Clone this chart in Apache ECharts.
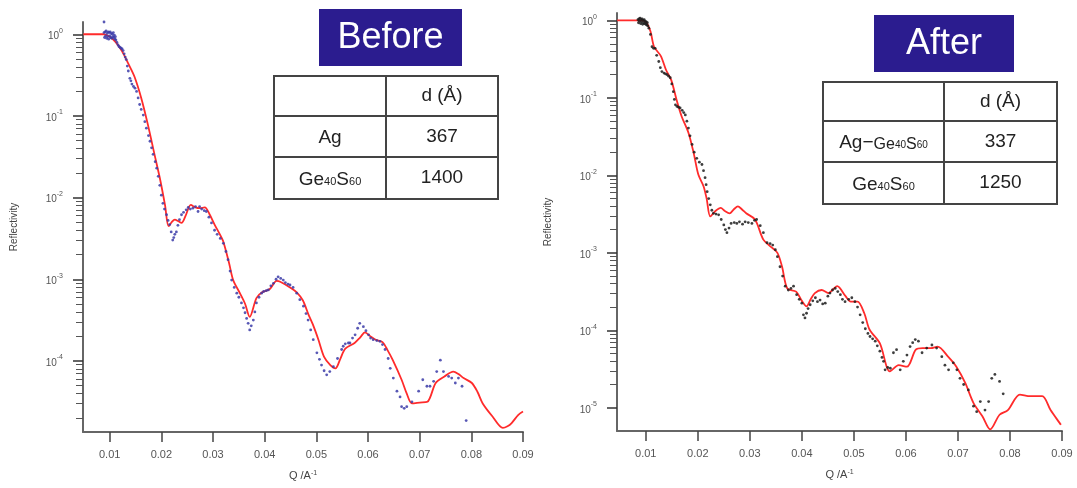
<!DOCTYPE html>
<html>
<head>
<meta charset="utf-8">
<title>Reflectivity before / after</title>
<script src="https://cdn.jsdelivr.net/npm/echarts@6/dist/echarts.min.js"></script>
<style>
  html, body { margin: 0; padding: 0; background: #fff; }
  #main { width: 1077px; height: 488px; }
</style>
</head>
<body>
<div id="main"></div>
<script>
// values: [Q (1/A), log10 of reflectivity]
const beforeFit = [
  [0.0049, 0.0], [0.0088, 0.0], [0.0100, -0.03], [0.0112, -0.10], [0.0124, -0.21], [0.0136, -0.36],
  [0.0148, -0.52], [0.0161, -0.78], [0.0174, -1.11], [0.0187, -1.48], [0.0197, -1.76], [0.0207, -2.09],
  [0.0214, -2.35], [0.0220, -2.30], [0.0226, -2.27], [0.0233, -2.29], [0.0239, -2.31], [0.0247, -2.22],
  [0.0257, -2.09], [0.0266, -2.12], [0.0274, -2.13], [0.0284, -2.12], [0.0293, -2.20], [0.0303, -2.33],
  [0.0314, -2.46], [0.0320, -2.54], [0.0331, -2.80], [0.0339, -3.01], [0.0352, -3.17], [0.0362, -3.30],
  [0.0371, -3.46], [0.0384, -3.23], [0.0395, -3.16], [0.0410, -3.12], [0.0423, -3.02], [0.0430, -3.03],
  [0.0449, -3.10], [0.0462, -3.16], [0.0474, -3.26], [0.0484, -3.42], [0.0493, -3.55], [0.0504, -3.74],
  [0.0515, -3.95], [0.0527, -4.05], [0.0537, -4.09], [0.0546, -3.98], [0.0556, -3.85], [0.0574, -3.78],
  [0.0585, -3.71], [0.0594, -3.65], [0.0605, -3.70], [0.0615, -3.74], [0.0628, -3.77], [0.0638, -3.87],
  [0.0648, -3.99], [0.0665, -4.23], [0.0675, -4.40], [0.0685, -4.52], [0.0700, -4.51], [0.0715, -4.50],
  [0.0731, -4.27], [0.0748, -4.19], [0.0765, -4.13], [0.0775, -4.16], [0.0785, -4.21], [0.0801, -4.27],
  [0.0812, -4.38], [0.0822, -4.52], [0.0841, -4.68], [0.0861, -4.82], [0.0870, -4.80], [0.0878, -4.76],
  [0.0891, -4.66], [0.0900, -4.62]
];
const beforeData = [
  [0.0089, 0.15], [0.0089, 0.02], [0.0090, -0.04], [0.0091, 0.03], [0.0092, -0.02], [0.0093, 0.04],
  [0.0094, -0.05], [0.0095, 0.01], [0.0096, -0.03], [0.0097, 0.03], [0.0098, -0.06], [0.0099, 0.02],
  [0.0100, -0.02], [0.0101, 0.03], [0.0102, -0.04], [0.0103, 0.01], [0.0104, -0.05], [0.0105, 0.0],
  [0.0106, -0.03], [0.0107, 0.02], [0.0108, -0.04], [0.0109, -0.01], [0.0110, -0.06], [0.0111, -0.03],
  [0.0112, -0.07], [0.0114, -0.10], [0.0116, -0.13], [0.0118, -0.15], [0.0120, -0.16], [0.0122, -0.17],
  [0.0124, -0.18], [0.0126, -0.20], [0.0128, -0.24], [0.0130, -0.28], [0.0132, -0.31], [0.0134, -0.39],
  [0.0136, -0.45], [0.0139, -0.54], [0.0141, -0.57], [0.0143, -0.61], [0.0146, -0.64], [0.0149, -0.66],
  [0.0152, -0.70], [0.0155, -0.78], [0.0158, -0.86], [0.0161, -0.92], [0.0165, -0.99], [0.0168, -1.07],
  [0.0171, -1.15], [0.0175, -1.24], [0.0178, -1.31], [0.0181, -1.39], [0.0184, -1.47], [0.0188, -1.56],
  [0.0191, -1.64], [0.0194, -1.74], [0.0197, -1.85], [0.0200, -1.97], [0.0203, -2.07], [0.0206, -2.14],
  [0.0210, -2.21], [0.0213, -2.28], [0.0216, -2.33], [0.0219, -2.42], [0.0222, -2.52], [0.0224, -2.49],
  [0.0226, -2.45], [0.0229, -2.42], [0.0232, -2.34], [0.0235, -2.27], [0.0239, -2.21], [0.0243, -2.18],
  [0.0248, -2.15], [0.0252, -2.12], [0.0256, -2.14], [0.0261, -2.13], [0.0266, -2.11], [0.0271, -2.17],
  [0.0274, -2.11], [0.0278, -2.14], [0.0283, -2.16], [0.0287, -2.17], [0.0292, -2.24], [0.0297, -2.31],
  [0.0303, -2.40], [0.0308, -2.45], [0.0314, -2.50], [0.0320, -2.56], [0.0325, -2.66], [0.0329, -2.76],
  [0.0333, -2.90], [0.0336, -3.01], [0.0341, -3.10], [0.0346, -3.17], [0.0350, -3.22], [0.0355, -3.29],
  [0.0359, -3.35], [0.0362, -3.41], [0.0365, -3.48], [0.0368, -3.54], [0.0371, -3.62], [0.0374, -3.57],
  [0.0378, -3.50], [0.0381, -3.40], [0.0384, -3.29], [0.0389, -3.22], [0.0394, -3.17], [0.0398, -3.15],
  [0.0403, -3.14], [0.0407, -3.13], [0.0412, -3.08], [0.0417, -3.05], [0.0422, -3.00], [0.0426, -2.97],
  [0.0431, -2.99], [0.0436, -3.01], [0.0440, -3.04], [0.0445, -3.06], [0.0449, -3.07], [0.0455, -3.10],
  [0.0462, -3.17], [0.0468, -3.25], [0.0475, -3.33], [0.0480, -3.42], [0.0484, -3.50], [0.0489, -3.62],
  [0.0494, -3.74], [0.0501, -3.90], [0.0506, -3.98], [0.0510, -4.05], [0.0515, -4.12], [0.0520, -4.17],
  [0.0526, -4.13], [0.0533, -4.07], [0.0541, -3.97], [0.0549, -3.86], [0.0552, -3.82], [0.0556, -3.79],
  [0.0562, -3.78], [0.0565, -3.78], [0.0570, -3.72], [0.0575, -3.68], [0.0580, -3.60], [0.0584, -3.54],
  [0.0591, -3.58], [0.0596, -3.63], [0.0601, -3.68], [0.0605, -3.72], [0.0610, -3.74], [0.0617, -3.75],
  [0.0623, -3.76], [0.0628, -3.80], [0.0633, -3.86], [0.0639, -3.97], [0.0643, -4.09], [0.0649, -4.21],
  [0.0656, -4.37], [0.0662, -4.44], [0.0665, -4.56], [0.0670, -4.58], [0.0675, -4.56], [0.0685, -4.50],
  [0.0698, -4.37], [0.0706, -4.23], [0.0714, -4.31], [0.0720, -4.31], [0.0727, -4.25], [0.0733, -4.13],
  [0.0740, -3.99], [0.0746, -4.13], [0.0756, -4.19], [0.0762, -4.21], [0.0769, -4.27], [0.0775, -4.21],
  [0.0782, -4.31], [0.0790, -4.73]
];
const afterFit = [
  [0.0045, 0.0], [0.0089, 0.0], [0.0100, -0.02], [0.0109, -0.14], [0.0116, -0.34], [0.0129, -0.46],
  [0.0139, -0.64], [0.0149, -0.77], [0.0159, -1.02], [0.0169, -1.24], [0.0182, -1.45], [0.0192, -1.71],
  [0.0201, -1.99], [0.0211, -2.14], [0.0217, -2.30], [0.0224, -2.53], [0.0234, -2.46], [0.0244, -2.42],
  [0.0252, -2.46], [0.0261, -2.49], [0.0269, -2.44], [0.0277, -2.40], [0.0285, -2.44], [0.0293, -2.49],
  [0.0310, -2.57], [0.0326, -2.83], [0.0340, -2.92], [0.0353, -3.00], [0.0362, -3.18], [0.0372, -3.46],
  [0.0389, -3.50], [0.0400, -3.62], [0.0409, -3.69], [0.0417, -3.60], [0.0425, -3.52], [0.0438, -3.48],
  [0.0451, -3.52], [0.0460, -3.47], [0.0468, -3.43], [0.0484, -3.56], [0.0494, -3.63], [0.0507, -3.63],
  [0.0520, -3.78], [0.0530, -3.99], [0.0550, -4.17], [0.0563, -4.47], [0.0569, -4.53], [0.0586, -4.45],
  [0.0602, -4.47], [0.0619, -4.25], [0.0632, -4.23], [0.0648, -4.23], [0.0661, -4.21], [0.0681, -4.34],
  [0.0697, -4.47], [0.0714, -4.68], [0.0730, -4.94], [0.0747, -5.11], [0.0762, -5.28], [0.0780, -5.09],
  [0.0796, -5.03], [0.0819, -4.83], [0.0839, -4.85], [0.0862, -4.85], [0.0878, -5.03], [0.0898, -5.22]
];
const afterData = [
  [0.0084, 0.13], [0.0085, 0.01], [0.0086, -0.03], [0.0087, 0.02], [0.0088, -0.01], [0.0089, 0.03],
  [0.0090, -0.04], [0.0091, 0.01], [0.0092, -0.02], [0.0093, 0.02], [0.0094, -0.05], [0.0095, 0.0],
  [0.0096, -0.03], [0.0097, 0.01], [0.0098, -0.04], [0.0099, -0.01], [0.0100, -0.05], [0.0101, -0.02],
  [0.0102, -0.06], [0.0103, -0.03], [0.0104, -0.07], [0.0106, -0.10], [0.0109, -0.18], [0.0112, -0.34],
  [0.0115, -0.36], [0.0118, -0.36], [0.0121, -0.45], [0.0125, -0.53], [0.0128, -0.61], [0.0131, -0.66],
  [0.0135, -0.68], [0.0138, -0.69], [0.0141, -0.70], [0.0144, -0.72], [0.0147, -0.74], [0.0150, -0.82],
  [0.0153, -0.92], [0.0155, -1.02], [0.0157, -1.09], [0.0160, -1.11], [0.0163, -1.12], [0.0166, -1.13],
  [0.0170, -1.16], [0.0173, -1.19], [0.0176, -1.22], [0.0179, -1.30], [0.0182, -1.39], [0.0185, -1.49],
  [0.0189, -1.60], [0.0193, -1.70], [0.0198, -1.78], [0.0203, -1.83], [0.0208, -1.86], [0.0211, -1.94],
  [0.0214, -2.03], [0.0216, -2.12], [0.0218, -2.21], [0.0221, -2.30], [0.0224, -2.38], [0.0227, -2.45],
  [0.0230, -2.49], [0.0235, -2.50], [0.0240, -2.51], [0.0245, -2.57], [0.0250, -2.64], [0.0253, -2.70],
  [0.0256, -2.74], [0.0260, -2.68], [0.0264, -2.62], [0.0270, -2.61], [0.0275, -2.62], [0.0280, -2.60],
  [0.0286, -2.63], [0.0291, -2.60], [0.0297, -2.61], [0.0304, -2.62], [0.0309, -2.58], [0.0313, -2.57],
  [0.0320, -2.65], [0.0326, -2.74], [0.0333, -2.87], [0.0339, -2.88], [0.0344, -2.90], [0.0349, -2.96],
  [0.0353, -3.05], [0.0358, -3.18], [0.0363, -3.30], [0.0368, -3.43], [0.0374, -3.48], [0.0379, -3.46],
  [0.0384, -3.43], [0.0390, -3.54], [0.0395, -3.60], [0.0400, -3.65], [0.0403, -3.80], [0.0406, -3.84],
  [0.0409, -3.78], [0.0412, -3.72], [0.0416, -3.67], [0.0421, -3.62], [0.0426, -3.58], [0.0430, -3.63],
  [0.0435, -3.61], [0.0440, -3.66], [0.0445, -3.65], [0.0450, -3.56], [0.0454, -3.52], [0.0459, -3.48],
  [0.0464, -3.46], [0.0469, -3.50], [0.0474, -3.54], [0.0478, -3.60], [0.0483, -3.63], [0.0490, -3.60],
  [0.0496, -3.58], [0.0502, -3.63], [0.0507, -3.70], [0.0512, -3.80], [0.0517, -3.90], [0.0522, -3.98],
  [0.0527, -4.04], [0.0531, -4.08], [0.0536, -4.11], [0.0541, -4.14], [0.0545, -4.20], [0.0550, -4.27],
  [0.0554, -4.35], [0.0557, -4.40], [0.0560, -4.51], [0.0565, -4.48], [0.0570, -4.49], [0.0576, -4.29],
  [0.0582, -4.25], [0.0589, -4.51], [0.0595, -4.40], [0.0602, -4.32], [0.0608, -4.21], [0.0613, -4.16],
  [0.0618, -4.12], [0.0624, -4.14], [0.0631, -4.29], [0.0640, -4.23], [0.0650, -4.19], [0.0659, -4.23],
  [0.0669, -4.34], [0.0675, -4.45], [0.0682, -4.51], [0.0691, -4.42], [0.0698, -4.51], [0.0704, -4.62],
  [0.0711, -4.70], [0.0720, -4.77], [0.0730, -4.98], [0.0736, -5.05], [0.0743, -4.92], [0.0752, -5.03],
  [0.0759, -4.92], [0.0765, -4.62], [0.0771, -4.57], [0.0780, -4.66], [0.0787, -4.82]
];

// tick labels
const qTicks = [0.01, 0.02, 0.03, 0.04, 0.05, 0.06, 0.07, 0.08, 0.09];
const decadeTicks = [1, 0.1, 0.01, 0.001, 0.0001, 0.00001];
const minorMantissa = [2, 3, 4, 5, 6, 7, 8, 9];

// table contents
const beforeTitle = 'Before';
const afterTitle = 'After';
const tableHead = 'd (Å)';
const beforeLayers = ['{n|Ag}', '{n|Ge}{sub|40}{n|S}{sub|60}'];
const beforeThick = ['367', '1400'];
const afterLayers = ['{n|Ag−}{m|Ge}{msub|40}{m|S}{msub|60}', '{n|Ge}{sub|40}{n|S}{sub|60}'];
const afterThick = ['337', '1250'];

const FONT = '"Liberation Sans", Arial, Helvetica, sans-serif';
const toR = pts => pts.map(p => [p[0], Math.pow(10, p[1])]);

const panels = [
  { fit: beforeFit, data: beforeData, dot: '#3b3ba8', qMin: 0.00483, rMin: Math.pow(10, -4.87), rMax: Math.pow(10, 0.15),
    grid: { left: 83, right: 554, top: 22, bottom: 56 } },
  { fit: afterFit, data: afterData, dot: '#1c1c1c', qMin: 0.00447, rMin: Math.pow(10, -5.30), rMax: Math.pow(10, 0.096),
    grid: { left: 617, right: 15, top: 13, bottom: 57 } }
];

function powerLabel(v) {
  return '{b|10}{s|' + Math.round(Math.log10(v)) + '}';
}

const grids = [], xAxes = [], yAxes = [], series = [];
panels.forEach((p, i) => {
  grids.push(Object.assign({ outerBoundsMode: 'none', containLabel: false }, p.grid));
  const majors = decadeTicks.filter(v => v >= p.rMin && v <= p.rMax);
  const minors = [];
  decadeTicks.forEach(d => minorMantissa.forEach(m => {
    const v = d * m;
    if (v >= p.rMin && v <= p.rMax) minors.push(v);
  }));
  xAxes.push({
    type: 'value', gridIndex: i, min: p.qMin, max: 0.09,
    axisLine: { lineStyle: { color: '#666', width: 2 } },
    axisTick: { customValues: qTicks, length: 10, lineStyle: { color: '#444', width: 1.5 } },
    axisLabel: { customValues: qTicks, margin: 17, fontSize: 11, color: '#555', fontFamily: FONT },
    splitLine: { show: false },
    name: 'Q /A{s|-1}', nameLocation: 'middle', nameGap: 38,
    nameTextStyle: { fontSize: 11, color: '#444', fontFamily: FONT,
      rich: { s: { fontSize: 7, verticalAlign: 'top', color: '#444' } } }
  });
  yAxes.push({
    type: 'log', gridIndex: i, min: p.rMin, max: p.rMax, position: 'left',
    axisLine: { show: true, lineStyle: { color: '#666', width: 2 } },
    axisTick: { customValues: majors, length: 10, lineStyle: { color: '#333', width: 1.5 } },
    axisLabel: { customValues: majors, margin: 20, formatter: powerLabel,
      rich: {
        b: { fontSize: 10, color: '#555', fontFamily: FONT, lineHeight: 14, verticalAlign: 'bottom' },
        s: { fontSize: 7, color: '#555', fontFamily: FONT, verticalAlign: 'top' }
      } },
    splitLine: { show: false },
    name: 'Reflectivity', nameLocation: 'middle', nameGap: 64,
    nameTextStyle: { fontSize: 10, color: '#444', fontFamily: FONT }
  });
  yAxes.push({
    type: 'log', gridIndex: i, min: p.rMin, max: p.rMax, position: 'left',
    axisLine: { show: false },
    axisTick: { customValues: minors, length: 7, lineStyle: { color: '#555', width: 1 } },
    axisLabel: { show: false },
    splitLine: { show: false }
  });
  series.push({
    type: 'line', xAxisIndex: i, yAxisIndex: i * 2, data: toR(p.fit),
    showSymbol: false, smooth: 0.3, z: 2,
    lineStyle: { color: '#ff2b2b', width: 1.8 }
  });
  series.push({
    type: 'scatter', xAxisIndex: i, yAxisIndex: i * 2, data: toR(p.data),
    symbol: 'circle', symbolSize: 2.8, z: 3,
    itemStyle: { color: p.dot, opacity: 0.85 }
  });
});

function tableGraphic(t) {
  const els = [];
  const line = { stroke: '#444', lineWidth: 2 };
  els.push({ type: 'rect', shape: { x: t.box[0], y: t.box[1], width: t.box[2], height: t.box[3] },
    style: { fill: '#2b1c8f' } });
  els.push({ type: 'text', x: t.box[0] + t.box[2] / 2, y: t.box[1] + t.box[3] / 2 + 1,
    style: { text: t.title, fill: '#fff', fontSize: 36, fontFamily: FONT, align: 'center', verticalAlign: 'middle' } });
  const c = t.cols, r = t.rows;
  els.push({ type: 'rect', shape: { x: c[0], y: r[0], width: c[2] - c[0], height: r[3] - r[0] },
    style: { fill: '#fff', stroke: '#444', lineWidth: 2 } });
  els.push({ type: 'line', shape: { x1: c[1], y1: r[0], x2: c[1], y2: r[3] }, style: line });
  els.push({ type: 'line', shape: { x1: c[0], y1: r[1], x2: c[2], y2: r[1] }, style: line });
  els.push({ type: 'line', shape: { x1: c[0], y1: r[2], x2: c[2], y2: r[2] }, style: line });
  const rich = {
    n: { fontSize: 19, fontFamily: FONT, fill: '#222', lineHeight: 22, verticalAlign: 'bottom' },
    sub: { fontSize: 11, fontFamily: FONT, fill: '#222', verticalAlign: 'bottom', padding: [0, 0, 2, 0] },
    m: { fontSize: 16, fontFamily: FONT, fill: '#222', lineHeight: 22, verticalAlign: 'bottom' },
    msub: { fontSize: 10, fontFamily: FONT, fill: '#222', verticalAlign: 'bottom', padding: [0, 0, 2, 0] }
  };
  const cell = (text, col, row) => ({
    type: 'text', x: (c[col] + c[col + 1]) / 2, y: (r[row] + r[row + 1]) / 2,
    style: { text: text, rich: rich, fontSize: 19, fontFamily: FONT, fill: '#222', align: 'center', verticalAlign: 'middle' }
  });
  els.push(cell(tableHead, 1, 0));
  for (let k = 0; k < 2; k++) {
    els.push(cell(t.layers[k], 0, k + 1));
    els.push(cell(t.thick[k], 1, k + 1));
  }
  return els;
}

const graphics = [].concat(
  tableGraphic({ title: beforeTitle, box: [319, 9, 143, 57], cols: [274, 386, 498], rows: [76, 116, 157, 199],
    layers: beforeLayers, thick: beforeThick }),
  tableGraphic({ title: afterTitle, box: [874, 15, 140, 57], cols: [823, 944, 1057], rows: [82, 121, 162, 204],
    layers: afterLayers, thick: afterThick })
);

const chart = echarts.init(document.getElementById('main'), null, { renderer: 'canvas' });
chart.setOption({
  animation: false,
  backgroundColor: '#fff',
  textStyle: { fontFamily: FONT },
  grid: grids,
  xAxis: xAxes,
  yAxis: yAxes,
  series: series,
  graphic: graphics
});
</script>
</body>
</html>
